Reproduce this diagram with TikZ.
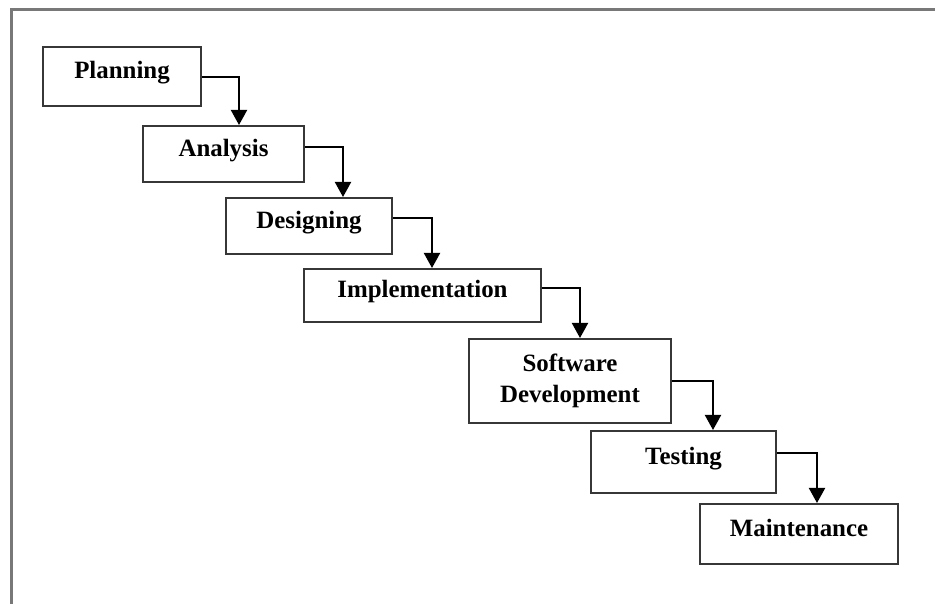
\documentclass[tikz,border=0pt]{standalone}
\usepackage{fontspec}
\setmainfont{Liberation Serif}
\usetikzlibrary{arrows.meta}
\definecolor{framegray}{RGB}{120,120,120}
\definecolor{boxline}{RGB}{55,55,55}
\tikzset{
  stagebox/.style={draw=boxline, line width=1bp, fill=white, inner sep=0pt,
    font=\fontsize{12.45bp}{15.5bp}\selectfont\bfseries,
    text height=10pt, text depth=7.5pt},
  stagebox2/.style={draw=boxline, line width=1bp, fill=white, inner sep=0pt,
    align=center, font=\fontsize{12.45bp}{15.5bp}\selectfont\bfseries},
  flow/.style={draw=black, line width=1bp, -{Triangle[width=8bp,length=7.5bp]}},
  frameline/.style={draw=framegray, line width=1.5bp}
}
\begin{document}
\begin{tikzpicture}[x=0.5bp,y=-0.5bp]
\useasboundingbox (0,0) rectangle (935,604);
\fill[white] (0,0) rectangle (935,604);
% frame
\coordinate (ftl) at (11,10);
\coordinate (ftr) at (940,10);
\coordinate (fbl) at (11,610);
\draw[frameline] (ftr) -- (ftl) -- (fbl);
% stages
\node[stagebox, minimum width=79bp, minimum height=29.5bp] (pl) at (122,76.5) {Planning};
\node[stagebox, minimum width=80.5bp, minimum height=28bp] (an) at (223.5,154) {Analysis};
\node[stagebox, minimum width=83bp, minimum height=28bp] (de) at (309,226) {Designing};
\node[stagebox, minimum width=118.5bp, minimum height=26.5bp] (im) at (422.5,295.5) {Implementation};
\node[stagebox2, minimum width=101bp, minimum height=42bp] (sd) at (570,381) {Software\\Development};
\node[stagebox, minimum width=92.5bp, minimum height=31bp] (te) at (683.5,462) {Testing};
\node[stagebox, minimum width=99bp, minimum height=30bp] (ma) at (799,534) {Maintenance};
% connectors
\draw[flow] (pl.east |- 0,77) -| (an.north -| 239,0);
\draw[flow] (an.east |- 0,147) -| (de.north -| 343,0);
\draw[flow] (de.east |- 0,218) -| (im.north -| 432,0);
\draw[flow] (im.east |- 0,288) -| (sd.north -| 580,0);
\draw[flow] (sd.east |- 0,381) -| (te.north -| 713,0);
\draw[flow] (te.east |- 0,453) -| (ma.north -| 817,0);
\end{tikzpicture}
\end{document}
